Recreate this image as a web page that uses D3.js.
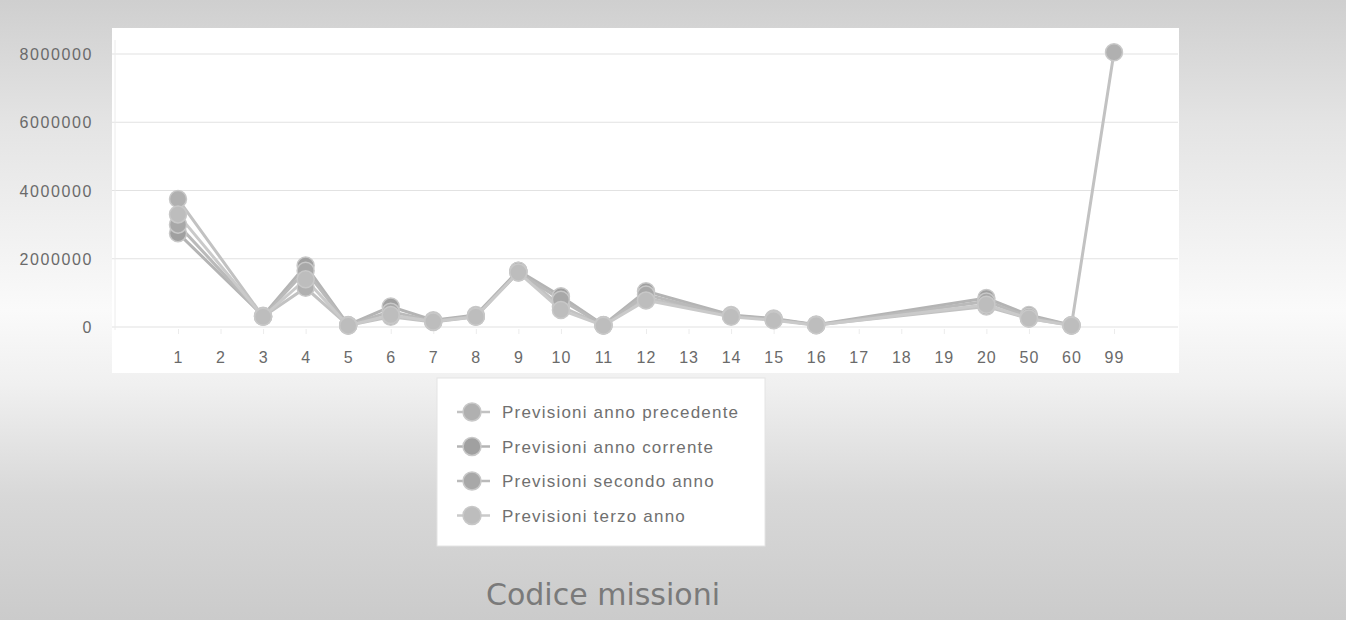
<!DOCTYPE html>
<html><head><meta charset="utf-8">
<script src="https://cdn.jsdelivr.net/npm/d3@7"></script>
<style>
html,body{margin:0;padding:0;background:#fff;}
svg{display:block;}
</style></head>
<body><svg id="c" width="1346" height="620"></svg>
<script>
const categories = ["1","2","3","4","5","6","7","8","9","10","11","12","13","14","15","16","17","18","19","20","50","60","99"];
const seriesNames = ["Previsioni anno precedente","Previsioni anno corrente","Previsioni secondo anno","Previsioni terzo anno"];
const prevPrecedente = [3750000,null,300000,1150000,50000,300000,150000,300000,1650000,600000,50000,850000,null,330000,230000,60000,null,null,null,600000,250000,50000,8050000];
const prevCorrente   = [2750000,null,330000,1800000,60000,600000,200000,350000,1650000,900000,60000,1050000,null,350000,250000,70000,null,null,null,850000,350000,50000,null];
const prevSecondo    = [3000000,null,310000,1650000,50000,450000,170000,320000,1600000,800000,50000,950000,null,320000,220000,60000,null,null,null,750000,300000,50000,null];
const prevTerzo      = [3300000,null,300000,1400000,40000,350000,160000,300000,1600000,500000,40000,780000,null,300000,200000,50000,null,null,null,650000,250000,40000,null];
const yTicks = [0,2000000,4000000,6000000,8000000];
const titleText = "Codice missioni";

const allSeries = [prevPrecedente, prevCorrente, prevSecondo, prevTerzo];
const markerFill = ["#b0b0b0","#a0a0a0","#a8a8a8","#bdbdbd"];
const lineCol = ["#c2c2c2","#b4b4b4","#bababa","#cacaca"];
const FONT = "'Liberation Sans', Arial, sans-serif";

const svg = d3.select("#c");
const defs = svg.append("defs");
const bg = defs.append("linearGradient").attr("id","bg").attr("x1",0).attr("x2",0).attr("y1",0).attr("y2",1);
[[0,"#cfcfcf"],[0.2,"#e4e4e4"],[0.5,"#fafafa"],[0.62,"#f0f0f0"],[0.8,"#d8d8d8"],[1,"#cbcbcb"]].forEach(s=>bg.append("stop").attr("offset",s[0]).attr("stop-color",s[1]));
svg.append("rect").attr("x",0).attr("y",0).attr("width",1346).attr("height",620).attr("fill","url(#bg)");
// white chart panel
svg.append("rect").attr("x",112).attr("y",28).attr("width",1067).attr("height",345).attr("fill","#fff");

const x = d3.scalePoint().domain(categories).range([178,1114]);
const y = d3.scaleLinear().domain([0,8000000]).range([327,54]);

// gridlines
svg.append("g").selectAll("line").data(yTicks).join("line")
  .attr("x1",112).attr("x2",1178).attr("y1",d=>y(d)).attr("y2",d=>y(d))
  .attr("stroke","#e2e2e2").attr("stroke-width",1.2);
svg.append("line").attr("x1",115).attr("x2",115).attr("y1",40).attr("y2",330).attr("stroke","#ececec");

// y axis
const yAxis = d3.axisLeft(y).tickValues(yTicks).tickFormat(d3.format("d")).tickSize(0).tickPadding(0);
const gy = svg.append("g").attr("transform","translate(93,0)").call(yAxis);
gy.select(".domain").remove();
gy.selectAll("text").attr("fill","#6a6a6a").style("font-family",FONT).style("font-size","16px").attr("letter-spacing","1.6px").attr("dy","0.35em");

// x axis
const xAxis = d3.axisBottom(x).tickSize(5).tickPadding(18);
const gx = svg.append("g").attr("transform","translate(0,329)").call(xAxis);
gx.select(".domain").remove();
gx.selectAll("line").attr("stroke","#ececec");
gx.selectAll("text").attr("fill","#6a6a6a").style("font-family",FONT).style("font-size","16px").attr("letter-spacing","1px");

// lines
const line = d3.line().x(d=>x(d.c)).y(d=>y(d.v));
allSeries.forEach((s,i)=>{
  const pts = categories.map((c,j)=>({c,v:s[j]})).filter(d=>d.v!==null);
  svg.append("path").datum(pts).attr("d",line).attr("fill","none")
    .attr("stroke",lineCol[i]).attr("stroke-width",3);
});
allSeries.forEach((s,i)=>{
  const pts = categories.map((c,j)=>({c,v:s[j]})).filter(d=>d.v!==null);
  svg.append("g").selectAll("circle").data(pts).join("circle")
    .attr("cx",d=>x(d.c)).attr("cy",d=>y(d.v)).attr("r",8.5)
    .attr("fill",markerFill[i]).attr("stroke","#c8c8c8").attr("stroke-width",1.5);
});

// legend
svg.append("rect").attr("x",437).attr("y",378).attr("width",328).attr("height",168)
  .attr("fill","#fff").attr("stroke","#e4e4e4");
const lg = svg.append("g").selectAll("g").data(seriesNames).join("g")
  .attr("transform",(d,i)=>`translate(0,${412+i*34.5})`);
lg.append("line").attr("x1",457).attr("x2",490).attr("y1",0).attr("y2",0).attr("stroke",(d,i)=>lineCol[i]).attr("stroke-width",2.5);
lg.append("circle").attr("cx",472).attr("cy",0).attr("r",9).attr("fill",(d,i)=>markerFill[i]).attr("stroke","#c8c8c8").attr("stroke-width",1.5);
lg.append("text").attr("x",502).attr("y",0).attr("dy","0.36em").style("font-family",FONT).style("font-size","17px")
  .attr("fill","#707070").attr("letter-spacing","1.2px").text(d=>d);

// title
svg.append("text").attr("x",603).attr("y",605).attr("text-anchor","middle")
  .style("font-family","'DejaVu Sans', Verdana, sans-serif").style("font-size","30px")
  .attr("fill","#7a7a7a").text(titleText);
</script></body></html>
